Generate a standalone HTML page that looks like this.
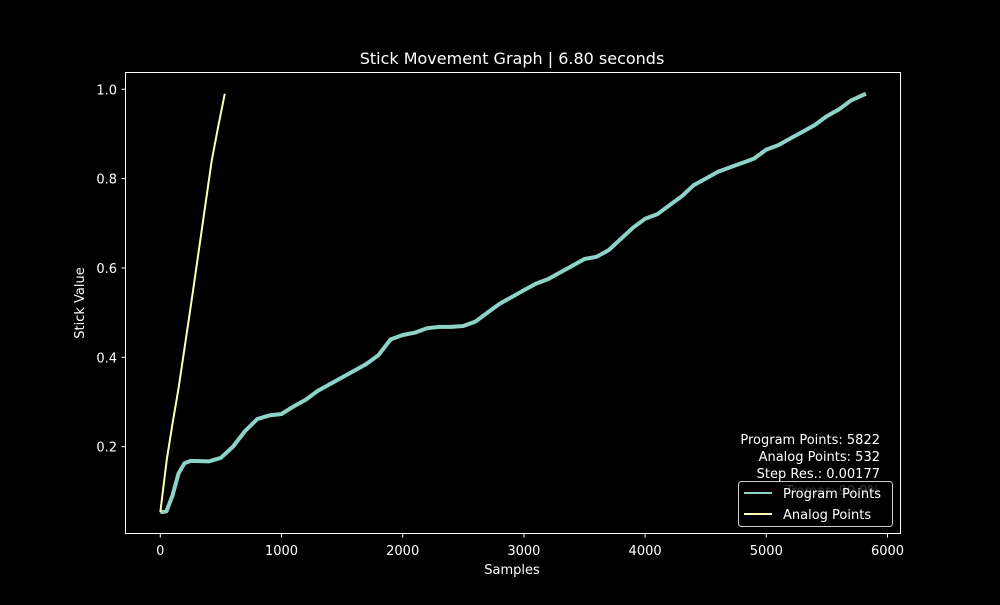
<!DOCTYPE html>
<html><head><meta charset="utf-8"><style>
body{margin:0;background:#000;}
svg text{font-family:"DejaVu Sans","Liberation Sans",sans-serif;fill:#fff;}
</style></head><body>
<svg id="chart" width="1000" height="600" xmlns="http://www.w3.org/2000/svg">
<rect width="1000" height="600" fill="#000"/>
<text x="512" y="64" font-size="16" text-anchor="middle">Stick Movement Graph | 6.80 seconds</text>
<g id="plot"></g>
<rect x="125.5" y="72.5" width="775" height="461" fill="none" stroke="#fff" stroke-width="1"/>
<g id="axes"></g>
<text x="512" y="574" font-size="13" text-anchor="middle">Samples</text>
<text transform="translate(84,303) rotate(-90)" font-size="13" text-anchor="middle">Stick Value</text>
<g font-size="13">
<text x="880" y="444" text-anchor="end">Program Points: 5822</text>
<text x="880" y="461" text-anchor="end">Analog Points: 532</text>
<text x="880" y="478" text-anchor="end">Step Res.: 0.00177</text>
<text x="880" y="495" text-anchor="end">Tremor: 90.9%</text>
</g>
<g>
<rect x="738.5" y="481.5" width="154" height="45" rx="3" fill="#000" fill-opacity="0.8" stroke="#ccc"/>
<line x1="744" y1="493" x2="772" y2="493" stroke="#8dd3c7" stroke-width="2"/>
<text x="783" y="498" font-size="13">Program Points</text>
<line x1="744" y1="514" x2="772" y2="514" stroke="#ffffb3" stroke-width="2"/>
<text x="783" y="519" font-size="13">Analog Points</text>
</g>
</svg>
<script>
const progX=[0,50,100,150,200,250,400,500,600,700,800,900,1000,1100,1200,1300,1400,1500,1600,1700,1800,1900,2000,2100,2200,2300,2400,2500,2600,2700,2800,2900,3000,3100,3200,3300,3400,3500,3600,3700,3800,3900,4000,4100,4200,4300,4400,4500,4600,4700,4800,4900,5000,5100,5200,5300,5400,5500,5600,5700,5822];
const progY=[0.053,0.055,0.09,0.14,0.163,0.168,0.167,0.175,0.2,0.235,0.262,0.27,0.273,0.29,0.305,0.325,0.34,0.355,0.37,0.385,0.405,0.44,0.45,0.455,0.465,0.468,0.468,0.47,0.48,0.5,0.52,0.535,0.55,0.565,0.575,0.59,0.605,0.62,0.625,0.64,0.665,0.69,0.71,0.72,0.74,0.76,0.785,0.8,0.815,0.825,0.835,0.845,0.865,0.875,0.89,0.905,0.92,0.94,0.955,0.975,0.99];
const anaX=[0,53,100,150,200,267,350,424,480,532];
const anaY=[0.053,0.17,0.25,0.33,0.42,0.544,0.7,0.84,0.92,0.99];
const xTicks=[0,1000,2000,3000,4000,5000,6000];
const yTicks=[0.2,0.4,0.6,0.8,1.0];
const NS="http://www.w3.org/2000/svg";
const sx=v=>160.3+v*0.1212;
const sy=v=>536-v*446.75;
const plot=document.getElementById('plot'),axes=document.getElementById('axes');
function line(xs,ys,color,w,name){
  const p=document.createElementNS(NS,'polyline');
  
  
  p.setAttribute('points',xs.map((x,i)=>sx(x).toFixed(1)+','+sy(ys[i]).toFixed(1)).join(' '));
  p.setAttribute('fill','none');p.setAttribute('stroke',color);p.setAttribute('stroke-width',w);
  p.setAttribute('stroke-linejoin','round');
  plot.appendChild(p);
}
line(progX,progY,'#8dd3c7',4,'program-points-line');
line(anaX,anaY,'#ffffb3',2,'analog-points-line');
xTicks.forEach(t=>{
  const l=document.createElementNS(NS,'line');
  
  
  l.setAttribute('x1',sx(t));l.setAttribute('x2',sx(t));l.setAttribute('y1',533.5);l.setAttribute('y2',537.5);l.setAttribute('stroke','#fff');
  axes.appendChild(l);
  const tx=document.createElementNS(NS,'text');
  
  
  tx.setAttribute('x',sx(t));tx.setAttribute('y',555);tx.setAttribute('font-size','13');tx.setAttribute('text-anchor','middle');
  tx.textContent=t;axes.appendChild(tx);
});
yTicks.forEach(t=>{
  const l=document.createElementNS(NS,'line');
  
  
  l.setAttribute('x1',121.5);l.setAttribute('x2',125.5);l.setAttribute('y1',sy(t));l.setAttribute('y2',sy(t));l.setAttribute('stroke','#fff');
  axes.appendChild(l);
  const tx=document.createElementNS(NS,'text');
  
  
  tx.setAttribute('x',117);tx.setAttribute('y',sy(t)+5);tx.setAttribute('font-size','13');tx.setAttribute('text-anchor','end');
  tx.textContent=t.toFixed(1);axes.appendChild(tx);
});
</script>
</body></html>
